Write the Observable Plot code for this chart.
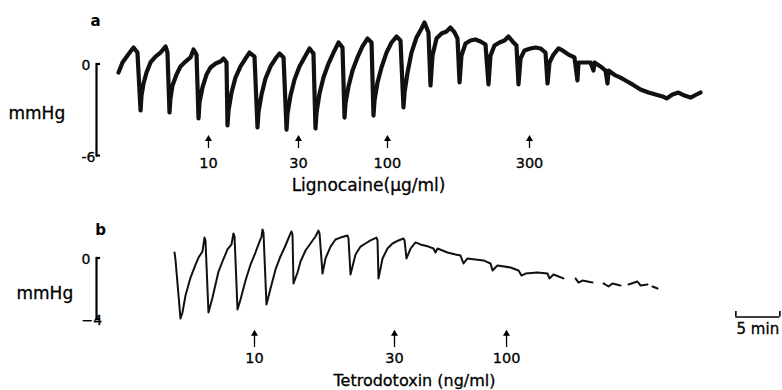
<!DOCTYPE html>
<html><head><meta charset="utf-8">
<script src="https://cdn.jsdelivr.net/npm/d3@7"></script>
<script src="https://cdn.jsdelivr.net/npm/@observablehq/plot@0.6"></script>
<style>
html,body{margin:0;padding:0;background:#fff;}
#chart{width:782px;height:390px;overflow:hidden;background:#fff;}
#chart svg{display:block;}
</style></head><body><div id="chart"></div>
<script>
// ---- Panel a: Lignocaine (time in min, pressure in mmHg) ----
const aTime = [
  2.05,2.5,3.07,3.75,4.2,
  4.55,4.66,4.89,5.23,5.68,6.25,6.82,7.39,7.61,
  7.84,7.95,8.18,8.64,9.09,9.66,10.23,10.57,10.91,
  11.14,11.25,11.59,12.05,12.5,13.07,13.64,13.98,14.32,
  14.43,14.55,14.89,15.34,15.91,16.48,16.93,17.5,
  17.84,17.95,18.3,18.75,19.32,19.89,20.34,20.8,
  21.14,21.25,21.59,22.05,22.61,23.18,23.75,24.2,
  24.43,24.55,24.89,25.34,25.91,26.48,27.05,27.5,
  27.73,27.84,28.18,28.64,29.2,29.77,30.34,30.8,
  31.02,31.14,31.48,31.93,32.5,33.07,33.64,34.09,
  34.43,34.55,34.89,35.34,35.91,36.48,36.82,37.27,
  37.5,37.73,38.18,38.75,39.32,39.77,40.23,40.57,
  40.8,41.02,41.48,42.05,42.61,43.18,43.75,
  44.09,44.32,44.77,45.34,45.91,46.36,46.82,47.27,
  47.5,47.73,48.18,48.86,49.43,50,50.57,
  50.8,51.02,51.48,52.05,52.5,53.18,53.86,
  54.2,54.32,55.11,55.68,56.02,56.14,56.82,57.39,
  57.61,57.73,58.52,59.09,59.66,60.45,61.36,62.27,63.07,63.86,64.32,65,65.68,66.36,67.05,67.73,68.18
];
const aPressure = [
  -0.56,0.1,0.56,1.08,0.75,
  -3.05,-2.07,-1.28,-0.56,0.1,0.49,0.75,1.15,0.75,
  -3.18,-2.26,-1.41,-0.69,-0.16,0.16,0.43,0.95,0.62,
  -3.57,-2.52,-1.54,-0.69,-0.23,0.03,0.16,0.36,0.1,
  -4.03,-3.05,-1.87,-0.89,-0.16,0.36,0.75,0.49,
  -4.16,-3.18,-2.0,-0.95,-0.16,0.36,0.69,0.43,
  -4.3,-3.25,-2.07,-1.02,-0.16,0.43,1.02,0.69,
  -4.23,-3.18,-1.93,-0.89,0.03,0.75,1.41,1.08,
  -3.51,-2.59,-1.48,-0.43,0.43,1.15,1.67,1.41,
  -3.38,-2.39,-1.21,-0.23,0.75,1.41,1.8,1.54,
  -2.85,-1.87,-0.56,0.75,1.74,2.33,2.72,2.07,
  -1.41,0.56,1.67,2.0,2.13,2.39,2.07,1.67,
  -1.21,0.56,1.34,1.54,1.61,1.48,1.28,
  -1.34,0.56,1.21,1.41,1.54,1.8,1.48,1.21,
  -1.34,0.36,0.89,1.02,1.08,1.02,0.75,
  -1.28,0.1,0.62,1.02,0.89,0.62,0.43,
  -1.08,0.1,0.1,0.1,-0.43,0.1,-0.16,-0.43,
  -1.28,-0.43,-0.75,-0.89,-1.08,-1.34,-1.67,-1.87,-2.0,-2.13,-2.26,-2.0,-1.87,-2.07,-2.2,-2.0,-1.87
];
const aDoseTime = [12.27, 22.5, 32.61, 48.75];
const aDoseLabel = ["10", "30", "100", "300"];
const aTicks = [0, -6];
const aTickLabels = ["0", "-6"];

// ---- Panel b: Tetrodotoxin ----
const bTime = [
  8.41,8.52,
  9.09,9.32,9.66,10.23,10.8,11.14,11.59,11.82,11.93,
  12.27,12.73,13.07,13.41,13.86,14.43,14.89,15.11,15.23,
  15.57,15.91,16.48,17.05,17.61,17.95,18.3,18.41,18.52,
  18.86,19.32,19.89,20.45,21.02,21.59,21.7,21.82,
  21.93,22.39,22.73,23.3,23.86,24.43,24.77,24.89,
  25.23,25.57,26.14,26.7,27.27,28.07,28.18,
  28.41,28.98,29.55,30.11,30.68,31.36,31.48,
  31.59,32.05,32.61,33.18,33.86,34.43,34.55,
  34.77,35.23,35.8,36.36,37.27,37.84,38.07,38.3,39.43,40.34,40.91,
  41.25,41.7,42.61,43.52,44.32,
  44.55,45.11,46.59,47.5,
  47.84,48.3,49.66,50.8,
  51.02,51.48,52.61,53.3,
  53.98,54.32,54.77,55.91,56.5,
  57.16,57.73,58.18,59.09,59.5,
  60,61.02,61.36,62.16,62.45,
  62.73,63.3
];
const bPressure = [
  0.36,-0.1,
  -3.97,-3.57,-2.46,-1.28,-0.43,0.03,0.43,1.34,1.15,
  -3.57,-2.59,-1.74,-0.89,-0.23,0.56,0.89,1.61,1.41,
  -3.38,-2.72,-1.48,-0.43,0.36,0.89,1.41,1.87,1.67,
  -3.05,-2.0,-0.75,0.1,0.82,1.61,1.74,1.54,
  -1.67,-0.95,-0.23,0.49,0.95,1.41,1.8,1.61,
  -1.02,-0.03,0.75,1.21,1.34,1.48,1.28,
  -1.08,0.23,0.75,0.95,1.15,1.34,1.15,
  -1.34,-0.03,0.62,0.95,1.15,1.28,1.15,
  -0.03,0.62,1.02,0.89,0.75,0.62,0.36,0.62,0.36,0.23,0.16,
  -0.36,-0.03,-0.1,-0.16,-0.36,
  -0.82,-0.49,-0.62,-0.82,
  -1.15,-1.02,-0.95,-1.02,
  -1.34,-1.08,-1.34,null,
  -1.34,-1.61,-1.48,-1.61,null,
  -1.67,-1.87,-1.67,-1.8,null,
  -1.74,-1.54,-1.8,-1.74,null,
  -1.87,-2.0
];
const bDoseTime = [17.5, 33.41, 46.14];
const bDoseLabel = ["10", "30", "100"];
const bTicks = [0, -4];
const bTickLabels = ["0", "\u22124"];

// scale bar (minutes)
const scaleBarStart = 72.2;
const scaleBarMinutes = 5;
const scaleBarLabel = "5 min";

const FONT = "'DejaVu Sans', sans-serif";
const W = 782, ML = 96, MR = 22;
const frameW = W - ML - MR;
const heavy = {fill: "#000", stroke: "#000", strokeWidth: 0.3};

function panel(o) {
  const rows = o.time.map((t, i) => ({t, v: o.pressure[i]}));
  const doses = o.doseTime.map((t, i) => ({t, label: o.doseLabel[i]}));
  const marks = [
    Plot.frame({anchor: "left", stroke: "#000", strokeWidth: 2.2}),
    Plot.ruleY(o.ticks, {stroke: "#000", strokeWidth: 2.2, insetRight: frameW - 4}),
    Plot.text(o.ticks, {y: d => d, text: (d, i) => o.tickLabels[i], frameAnchor: "left",
      dx: -15, dy: 2, textAnchor: "start", fontSize: 14, ...heavy}),
    Plot.text(["mmHg"], {y: o.ticks[1] / 2, text: d => d, frameAnchor: "left",
      dx: o.mmX, dy: o.mmDy, textAnchor: "start", fontSize: 17, ...heavy}),
    Plot.text([o.panelLabel], {text: d => d, frameAnchor: "top-left", dx: o.pdx, dy: o.pdy,
      textAnchor: "middle", fontSize: 15, fontWeight: "bold", fill: "#000"}),
    Plot.line(rows, {x: "t", y: "v", stroke: "#111", strokeWidth: o.sw,
      strokeLinejoin: "round", strokeLinecap: "round"}),
    Plot.ruleX(doses, {x: "t", y1: o.arrowTail, y2: o.arrowHead, stroke: "#000", strokeWidth: 1.3}),
    Plot.dot(doses, {x: "t", y: o.arrowHead, symbol: "triangle", r: 2.6, fill: "#000", stroke: "none", dy: 1}),
    Plot.text(doses, {x: "t", y: o.arrowTail, text: "label", dy: o.labelDy, fontSize: 14.5, ...heavy}),
    Plot.text([o.drug], {text: d => d, frameAnchor: "bottom", dx: o.drugDx, dy: o.drugDy, fontSize: o.drugSize, ...heavy})
  ];
  if (o.extra) marks.push(...o.extra);
  return Plot.plot({
    width: W, height: o.height,
    marginLeft: ML, marginRight: MR, marginTop: o.mt, marginBottom: o.mb,
    x: {domain: [0, 75], range: [100, 760], axis: null},
    y: {domain: [o.ticks[1], 0], axis: null},
    style: {fontFamily: FONT, color: "#000", background: "#fff", overflow: "visible"},
    marks
  });
}

const chart = document.getElementById("chart");

chart.append(panel({
  time: aTime, pressure: aPressure, doseTime: aDoseTime, doseLabel: aDoseLabel,
  ticks: aTicks, tickLabels: aTickLabels, panelLabel: "a",
  height: 200, mt: 63.5, mb: 45, sw: 4.2,
  mmX: -88, mmDy: 4, pdx: -1, pdy: -49,
  arrowTail: -5.54, arrowHead: -4.85, labelDy: 15,
  drug: "Lignocaine(\u00b5g/ml)", drugDx: -60, drugDy: 35, drugSize: 17
}));

chart.append(panel({
  time: bTime, pressure: bPressure, doseTime: bDoseTime, doseLabel: bDoseLabel,
  ticks: bTicks, tickLabels: bTickLabels, panelLabel: "b",
  height: 190, mt: 57.5, mb: 71.5, sw: 2,
  mmX: -80, mmDy: 5, pdx: 4, pdy: -34,
  arrowTail: -5.87, arrowHead: -4.9, labelDy: 11,
  drug: "Tetrodotoxin (ng/ml)", drugDx: -14, drugDy: 67, drugSize: 16,
  extra: [
    Plot.ruleY([-3.87], {x1: scaleBarStart, x2: scaleBarStart + scaleBarMinutes, stroke: "#000", strokeWidth: 1.6}),
    Plot.ruleX([scaleBarStart, scaleBarStart + scaleBarMinutes], {y1: -3.87, y2: -3.5, stroke: "#000", strokeWidth: 1.6}),
    Plot.text([scaleBarLabel], {x: scaleBarStart + scaleBarMinutes / 2, y: -3.87, text: d => d, dy: 12, fontSize: 15, ...heavy})
  ]
}));
</script></body></html>
